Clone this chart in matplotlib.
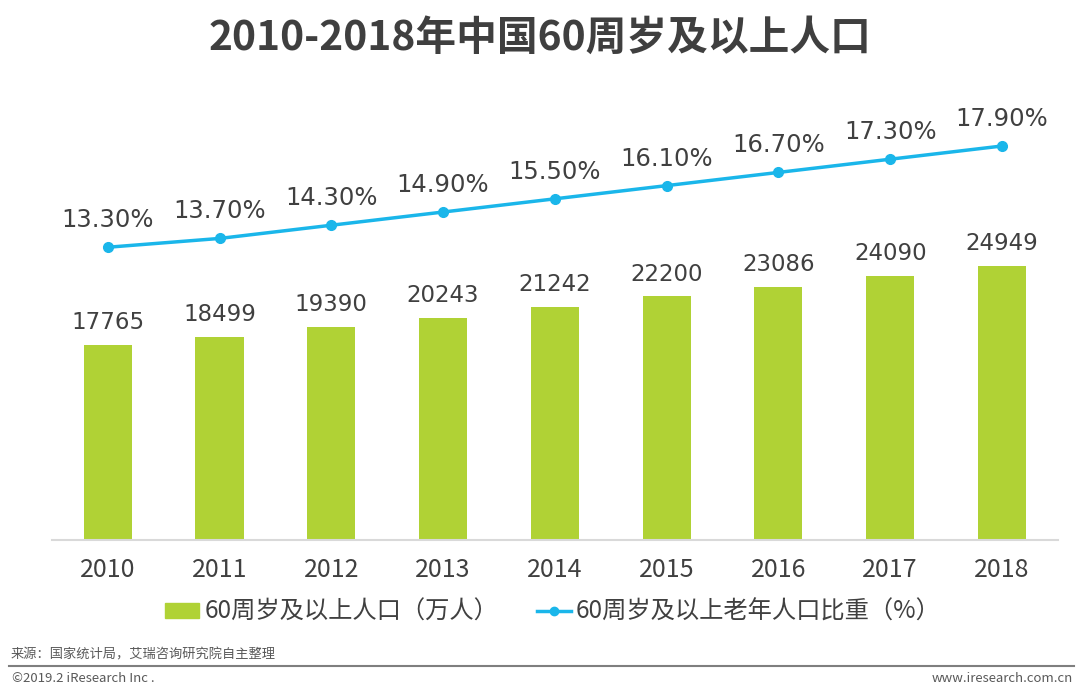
import numpy as np
import matplotlib.pyplot as plt
from matplotlib.lines import Line2D
from matplotlib.patches import Patch

plt.rcParams['font.family'] = ['Noto Sans CJK SC', 'DejaVu Sans']

years = ['2010', '2011', '2012', '2013', '2014', '2015', '2016', '2017', '2018']
pop = [17765, 18499, 19390, 20243, 21242, 22200, 23086, 24090, 24949]
ratio = [13.3, 13.7, 14.3, 14.9, 15.5, 16.1, 16.7, 17.3, 17.9]

green = '#B0D235'
blue = '#1AB6EA'
txt = '#404040'

fig = plt.figure(figsize=(10.8, 6.93), dpi=100)
ax = fig.add_axes([0.048, 0.2208, 0.9315, 0.6638])
x = np.arange(len(years))
ax.bar(x, pop, width=0.43, color=green, zorder=2)
ax.set_xlim(-0.5, len(years) - 0.5)
ax.set_ylim(0, 41900)
for i, v in enumerate(pop):
    ax.annotate(str(v), (x[i], v), xytext=(0, 16), textcoords='offset points',
                ha='center', va='center', fontsize=16.5, color=txt, family='DejaVu Sans')

for s in ['top', 'right', 'left']:
    ax.spines[s].set_visible(False)
ax.spines['bottom'].set_color('#D9D9D9')
ax.spines['bottom'].set_linewidth(1.5)
ax.set_yticks([])
ax.set_xticks(x)
ax.set_xticklabels(years, fontsize=18, color=txt)
ax.tick_params(axis='x', length=0, pad=12)

ax2 = ax.twinx()
ax2.plot(x, ratio, color=blue, lw=2.5, marker='o', ms=7, zorder=3)
ax2.set_ylim(0, 20.9)
ax2.axis('off')
for i, v in enumerate(ratio):
    ax2.annotate('%.2f%%' % v, (x[i], v), xytext=(0, 19.5), textcoords='offset points',
                 ha='center', va='center', fontsize=17.5, color=txt, family='DejaVu Sans')

fig.text(0.5, 0.945, '2010-2018年中国60周岁及以上人口', ha='center', va='center',
         fontsize=29.3, fontweight='bold', color='#3F3F3F')

handles = [Patch(color=green), Line2D([], [], color=blue, lw=2.5, marker='o', ms=6)]
labels = ['60周岁及以上人口（万人）', '60周岁及以上老年人口比重（%）']
fig.legend(handles, labels, loc='center', bbox_to_anchor=(0.512, 1 - 612 / 693), ncol=2,
           frameon=False, fontsize=17.5, handlelength=1.4, handleheight=0.6,
           handletextpad=0.2, columnspacing=1.6, labelcolor=txt)

fig.text(0.01, 1 - 655 / 693, '来源：国家统计局，艾瑞咨询研究院自主整理', ha='left', va='center',
         fontsize=9.5, color='#595959')
fig.add_artist(Line2D([0.008, 0.994], [1 - 666 / 693] * 2, color='#7F7F7F', lw=1.5))
fig.text(0.011, 1 - 678 / 693, '©2019.2 iResearch Inc .', ha='left', va='center',
         fontsize=9.5, color='#595959')
fig.text(0.993, 1 - 678 / 693, 'www.iresearch.com.cn', ha='right', va='center',
         fontsize=9.5, color='#595959')

fig.savefig('out.png', dpi=100)
